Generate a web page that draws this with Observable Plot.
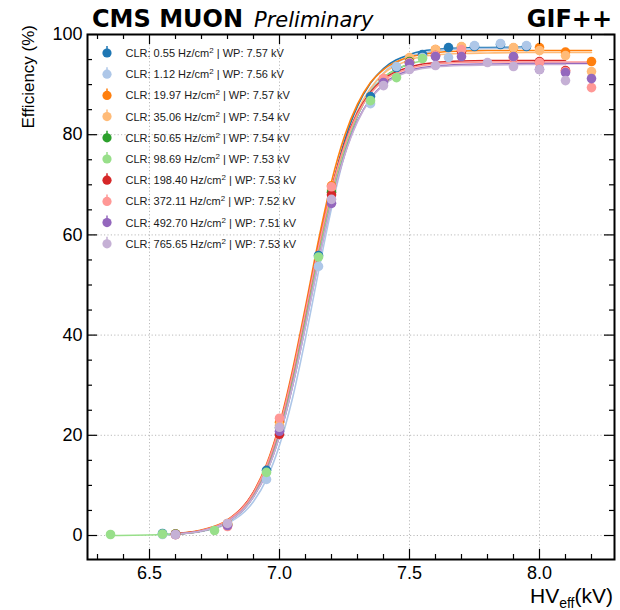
<!DOCTYPE html>
<html><head><meta charset="utf-8">
<script src="https://cdn.jsdelivr.net/npm/d3@7"></script>
<script src="https://cdn.jsdelivr.net/npm/@observablehq/plot@0.6"></script>
<style>
body{margin:0;background:#fff;}
#wrap{position:relative;width:620px;height:610px;overflow:hidden;}
#wrap svg{position:absolute;left:0;top:0;}
</style></head><body><div id="wrap"></div>
<script>
// ---- Series metadata ----
const rates = [0.55, 1.12, 19.97, 35.06, 50.65, 98.69, 198.40, 372.11, 492.70, 765.65];
const workingPoints = [7.57, 7.56, 7.57, 7.54, 7.54, 7.53, 7.53, 7.52, 7.51, 7.53];
const colors = ["#1f77b4","#aec7e8","#ff7f0e","#ffbb78","#2ca02c","#98df8a","#d62728","#ff9896","#9467bd","#c5b0d5"];

// ---- Measured points (HV_eff in kV, efficiency in %) ----
const hv_0p55   = [6.55, 6.95, 7.15, 7.35, 7.45, 7.55, 7.65, 7.75, 7.85, 7.95];
const eff_0p55  = [0.4, 13.0, 55.9, 87.6, 93.4, 96.0, 97.4, 97.6, 98.0, 97.6];
const hv_1p12   = [6.55, 6.95, 7.15, 7.35, 7.45, 7.55, 7.65, 7.75, 7.85, 7.95];
const eff_1p12  = [0.2, 11.2, 53.7, 86.2, 93.6, 95.4, 95.4, 97.8, 98.2, 97.8];
const hv_19p97  = [6.6, 6.8, 7.0, 7.2, 7.4, 7.5, 7.6, 7.7, 7.9, 8.0, 8.1, 8.2];
const eff_19p97 = [0.3, 2.4, 22.6, 69.8, 91.0, 95.2, 97.0, 97.5, 97.3, 97.4, 96.5, 94.6];
const hv_35p06  = [6.6, 6.8, 7.0, 7.2, 7.4, 7.5, 7.6, 7.7, 7.9, 8.0, 8.1, 8.2];
const eff_35p06 = [0.3, 2.2, 22.0, 69.0, 91.2, 95.4, 97.0, 97.6, 97.4, 96.8, 95.8, 92.6];
const hv_50p65  = [6.6, 6.8, 7.0, 7.2, 7.4, 7.5];
const eff_50p65 = [0.3, 2.2, 21.5, 68.5, 90.8, 94.6];
const hv_98p69  = [6.35, 6.55, 6.75, 6.95, 7.15, 7.35, 7.45, 7.55];
const eff_98p69 = [0.2, 0.3, 1.0, 12.6, 55.6, 86.8, 91.4, 95.2];
const hv_198p4  = [6.6, 6.8, 7.0, 7.2, 7.4, 7.5, 7.6, 7.7, 7.9, 8.0, 8.1];
const eff_198p4 = [0.2, 2.0, 20.2, 68.0, 91.0, 94.4, 95.8, 96.6, 95.4, 94.6, 92.8];
const hv_372p1  = [6.6, 6.8, 7.0, 7.2, 7.4, 7.5, 7.6, 7.7, 7.9, 8.0, 8.1, 8.2];
const eff_372p1 = [0.2, 1.8, 23.4, 69.6, 91.2, 94.4, 95.8, 97.0, 95.4, 94.4, 92.6, 89.4];
const hv_492p7  = [6.6, 6.8, 7.0, 7.2, 7.4, 7.5, 7.6, 7.7, 7.9, 8.0, 8.1, 8.2];
const eff_492p7 = [0.2, 2.0, 20.8, 66.3, 90.4, 94.2, 95.6, 95.6, 95.6, 93.0, 92.4, 91.2];
const hv_765p6  = [6.6, 6.8, 7.0, 7.2, 7.4, 7.5, 7.6, 7.8, 7.9, 8.0, 8.1];
const eff_765p6 = [0.2, 2.4, 21.6, 67.1, 89.8, 93.0, 93.8, 94.4, 93.6, 93.0, 90.8];

// ---- Sigmoid fit curves, read at common HV values (null = outside fit range) ----
const fitHV = [6.35, 6.55, 6.6, 6.7, 6.8, 6.9, 6.95, 7.0, 7.05, 7.1, 7.15, 7.2, 7.25, 7.3, 7.35, 7.4, 7.5, 7.55, 7.6, 7.7, 7.8, 7.95, 8.0, 8.1, 8.2];
const fit_0p55  = [null, 0.2, 0.3, 1.0, 2.8, 8.0, 13.0, 20.6, 30.9, 43.4, 56.7, 68.9, 78.7, 85.7, 90.3, 93.2, 96.0, 96.7, 97.0, 97.3, 97.4, 97.5, null, null, null];
const fit_1p12  = [null, 0.2, 0.3, 0.8, 2.4, 6.8, 11.2, 18.0, 27.4, 39.4, 52.7, 65.3, 75.9, 83.7, 88.9, 92.3, 95.6, 96.3, 96.7, 97.1, 97.2, 97.3, null, null, null];
const fit_19p97 = [null, null, 0.4, 1.1, 3.1, 8.7, 14.2, 22.2, 33.0, 45.7, 58.9, 70.6, 79.7, 86.1, 90.4, 93.0, 95.5, 96.0, 96.4, 96.7, 96.8, 96.8, 96.8, 96.8, 96.8];
const fit_35p06 = [null, null, 0.3, 0.9, 2.8, 7.9, 12.9, 20.3, 30.5, 42.9, 56.1, 68.1, 77.8, 84.7, 89.3, 92.2, 94.9, 95.6, 95.9, 96.2, 96.3, 96.4, 96.4, 96.4, 96.4];
const fit_50p65 = [null, null, 0.3, 0.9, 2.7, 7.8, 12.7, 20.1, 30.2, 42.5, 55.6, 67.5, 77.1, 83.9, 88.5, 91.3, 94.1, null, null, null, null, null, null, null, null];
const fit_98p69 = [0.0, 0.2, 0.3, 0.9, 2.7, 7.8, 12.7, 20.1, 30.2, 42.5, 55.6, 67.5, 77.1, 83.9, 88.5, 91.3, 94.1, 94.7, null, null, null, null, null, null, null];
const fit_198p4 = [null, null, 0.4, 1.0, 3.0, 8.6, 13.9, 21.8, 32.3, 44.8, 57.7, 69.1, 78.1, 84.4, 88.5, 91.1, 93.5, 94.1, 94.4, 94.7, 94.8, 94.8, 94.8, 94.8, null];
const fit_372p1 = [null, null, 0.3, 1.0, 3.0, 8.5, 13.9, 21.7, 32.2, 44.7, 57.5, 68.9, 77.8, 84.1, 88.2, 90.8, 93.2, 93.8, 94.1, 94.4, 94.5, 94.5, 94.5, 94.5, 94.5];
const fit_492p7 = [null, null, 0.3, 0.9, 2.7, 7.7, 12.6, 19.9, 29.8, 41.9, 54.8, 66.6, 76.0, 82.8, 87.2, 90.1, 92.8, 93.4, 93.7, 94.0, 94.1, 94.2, 94.2, 94.2, 94.2];
const fit_765p6 = [null, null, 0.3, 0.9, 2.7, 7.7, 12.5, 19.8, 29.8, 41.8, 54.7, 66.4, 75.8, 82.6, 87.1, 89.9, 92.6, 93.2, 93.5, 93.8, 93.9, 94.0, 94.0, 94.0, null];

// ---- Axis ticks ----
const xMajor = [6.5, 7.0, 7.5, 8.0];
const xMinor = [6.3, 6.4, 6.6, 6.7, 6.8, 6.9, 7.1, 7.2, 7.3, 7.4, 7.6, 7.7, 7.8, 7.9, 8.1, 8.2];
const yMajor = [0, 20, 40, 60, 80, 100];
const yMinor = [5, 10, 15, 25, 30, 35, 45, 50, 55, 65, 70, 75, 85, 90, 95];

// ---- Build tables ----
const hvs  = [hv_0p55, hv_1p12, hv_19p97, hv_35p06, hv_50p65, hv_98p69, hv_198p4, hv_372p1, hv_492p7, hv_765p6];
const effs = [eff_0p55, eff_1p12, eff_19p97, eff_35p06, eff_50p65, eff_98p69, eff_198p4, eff_372p1, eff_492p7, eff_765p6];
const fits = [fit_0p55, fit_1p12, fit_19p97, fit_35p06, fit_50p65, fit_98p69, fit_198p4, fit_372p1, fit_492p7, fit_765p6];
const keys = rates.map(r => r.toFixed(2));
const points = [], curves = [];
keys.forEach((k, i) => {
  hvs[i].forEach((h, j) => points.push({series: k, hv: h, eff: effs[i][j]}));
  fitHV.forEach((h, j) => { if (fits[i][j] != null) curves.push({series: k, hv: h, eff: fits[i][j]}); });
});

const W = 620, H = 610, mL = 87, mR = 6, mT = 34, mB = 51;
const fw = W - mL - mR, fh = H - mT - mB;
const majLen = 10, minLen = 5;
const tickStyle = {stroke: "#000", strokeWidth: 1.2};

const chart = Plot.plot({
  width: W, height: H,
  marginLeft: mL, marginRight: mR, marginTop: mT, marginBottom: mB,
  style: {fontFamily: "'Liberation Sans', Arial, sans-serif", color: "#000", background: "transparent"},
  x: {domain: [6.2615, 8.2885]},
  y: {domain: [-4.79, 100]},
  color: {domain: keys, range: colors},
  marks: [
    Plot.gridX(xMajor, {stroke: "#aaa", strokeOpacity: 1, strokeWidth: 0.8, strokeDasharray: "1.2,2.2"}),
    Plot.gridY(yMajor, {stroke: "#aaa", strokeOpacity: 1, strokeWidth: 0.8, strokeDasharray: "1.2,2.2"}),
    Plot.line(curves, {x: "hv", y: "eff", z: "series", stroke: "series", strokeWidth: 1.6, curve: "monotone-x"}),
    Plot.dot(points, {x: "hv", y: "eff", fill: "series", r: 4.8}),
    // inward ticks on all four sides
    Plot.ruleX(xMajor, {...tickStyle, insetTop: fh - majLen}),
    Plot.ruleX(xMajor, {...tickStyle, insetBottom: fh - majLen}),
    Plot.ruleX(xMinor, {...tickStyle, insetTop: fh - minLen}),
    Plot.ruleX(xMinor, {...tickStyle, insetBottom: fh - minLen}),
    Plot.ruleY(yMajor, {...tickStyle, insetRight: fw - majLen}),
    Plot.ruleY(yMajor, {...tickStyle, insetLeft: fw - majLen}),
    Plot.ruleY(yMinor, {...tickStyle, insetRight: fw - minLen}),
    Plot.ruleY(yMinor, {...tickStyle, insetLeft: fw - minLen}),
    Plot.axisX(xMajor, {tickSize: 0, tickPadding: 7, fontSize: 18, tickFormat: d => d.toFixed(1), label: null}),
    Plot.axisY(yMajor, {tickSize: 0, tickPadding: 5, fontSize: 18, tickFormat: d => String(d), label: null}),
    Plot.frame({stroke: "#000", strokeWidth: 2})
  ]
});
document.getElementById("wrap").appendChild(chart);

// ---- Overlay: titles, axis labels, legend ----
const ov = d3.select("#wrap").append("svg").attr("width", W).attr("height", H)
  .style("pointer-events", "none");
ov.append("text").attr("x", 92).attr("y", 27)
  .style("font-family", "'DejaVu Sans', sans-serif").style("font-weight", "bold").style("font-size", "24px")
  .text("CMS MUON");
ov.append("text").attr("x", 254).attr("y", 27)
  .style("font-family", "'DejaVu Sans', sans-serif").style("font-style", "italic").style("font-size", "21px")
  .text("Preliminary");
ov.append("text").attr("x", 612).attr("y", 27).attr("text-anchor", "end")
  .style("font-family", "'DejaVu Sans', sans-serif").style("font-weight", "bold").style("font-size", "24px")
  .text("GIF++");

const xl = ov.append("text").attr("x", 613).attr("y", 603).attr("text-anchor", "end")
  .style("font-family", "'Liberation Sans', Arial, sans-serif").style("font-size", "21px");
xl.append("tspan").text("HV");
xl.append("tspan").attr("dy", 5).style("font-size", "14px").text("eff");
xl.append("tspan").attr("dy", -5).text("(kV)");

ov.append("text").attr("transform", "translate(33.5,25) rotate(-90)").attr("text-anchor", "end")
  .style("font-family", "'Liberation Sans', Arial, sans-serif").style("font-size", "17px")
  .text("Efficiency (%)");

const lg = ov.append("g");
keys.forEach((k, i) => {
  const cy = 53 + i * 21.2;
  lg.append("line").attr("x1", 107).attr("x2", 107).attr("y1", cy - 7).attr("y2", cy)
    .attr("stroke", colors[i]).attr("stroke-width", 1.5);
  lg.append("circle").attr("cx", 107).attr("cy", cy).attr("r", 4.6).attr("fill", colors[i]);
  const t = lg.append("text").attr("x", 125.5).attr("y", cy + 3.9)
    .style("font-family", "'Liberation Sans', Arial, sans-serif").style("font-size", "11px").attr("fill", "#1a1a1a");
  t.append("tspan").text(`CLR: ${rates[i].toFixed(2)} Hz/cm`);
  t.append("tspan").attr("dy", -4).style("font-size", "8px").text("2");
  t.append("tspan").attr("dy", 4).text(` | WP: ${workingPoints[i].toFixed(2)} kV`);
});
</script></body></html>
